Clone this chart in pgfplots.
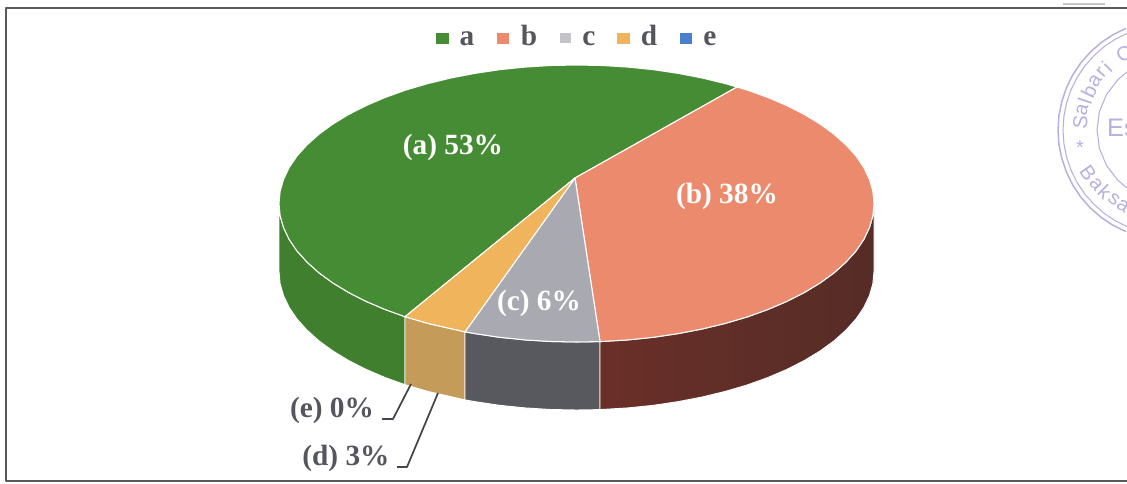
\documentclass[border=0pt]{standalone}
\usepackage{pgfplots}
\pgfplotsset{compat=1.18}
\usepackage{fontspec}
\setmainfont{Liberation Serif}
\newfontfamily\stampfont{Liberation Sans}
\definecolor{topa}{HTML}{468C34}
\definecolor{topb}{HTML}{EC8A6E}
\definecolor{topc}{HTML}{A9A9B2}
\definecolor{topd}{HTML}{EFB45C}
\definecolor{tope}{HTML}{4A7FCF}
\definecolor{sidea}{HTML}{3F7F2D}
\definecolor{sidebl}{HTML}{6A2F28}
\definecolor{sidebr}{HTML}{562C27}
\definecolor{sidec}{HTML}{58585F}
\definecolor{sided}{HTML}{C59B5A}
\definecolor{txt}{HTML}{55555E}
\definecolor{stamp}{HTML}{B5B0E0}
\newcommand{\stl}[4]{\node[text=stamp,rotate=#4,inner sep=0pt,font=\stampfont\fontsize{15}{15}\selectfont] at (axis cs:#2,#3) {#1};}
\newcommand{\lbl}[3]{\node[text=white,font=\bfseries\fontsize{22}{24}\selectfont] at (axis cs:#1,#2) {#3};}
\newcommand{\leg}[2]{\node[text=txt,font=\bfseries\fontsize{22}{24}\selectfont,anchor=base] at (axis cs:#1,46) {#2};}
\begin{document}
\begin{tikzpicture}
\begin{axis}[
  name=ax,
  scale only axis, width=845.25pt, height=362.25pt,
  xmin=0, xmax=1127, ymin=0, ymax=483, y dir=reverse,
  hide axis, clip=true,
  every axis plot/.append style={no markers, line join=round},
]
% stamp
\addplot[stamp, line width=1.1pt, forget plot] coordinates {(1125.9,28.4)(1113,34.7)(1101,42.7)(1090.2,52.2)(1080.7,63)(1072.7,75)(1066.4,87.9)(1061.8,101.5)(1058.9,115.6)(1058,130)(1058.9,144.4)(1061.8,158.5)(1066.4,172.1)(1072.7,185)(1080.7,197)(1090.2,207.8)(1101,217.3)(1113,225.3)(1125.9,231.6)};
\addplot[stamp, line width=0.8pt, forget plot] coordinates {(1127.8,33)(1115.5,39.1)(1104.1,46.7)(1093.8,55.8)(1084.7,66.1)(1077.1,77.5)(1071,89.8)(1066.6,102.8)(1063.9,116.3)(1063,130)(1063.9,143.7)(1066.6,157.2)(1071,170.2)(1077.1,182.5)(1084.7,193.9)(1093.8,204.2)(1104.1,213.3)(1115.5,220.9)(1127.8,227)};
\addplot[stamp, line width=0.8pt, forget plot] coordinates {(1132.5,68.5)(1124.8,73.7)(1117.8,79.8)(1106.5,94.5)(1099.4,111.6)(1097,130)(1099.4,148.4)(1106.5,165.5)(1117.8,180.2)(1124.8,186.3)(1132.5,191.5)};
\stl{S}{1080.3}{122.3}{85}
\stl{a}{1082.3}{110.2}{77}
\stl{l}{1084.8}{101.3}{71}
\stl{b}{1088.9}{91.4}{64}
\stl{a}{1095}{80.8}{56}
\stl{r}{1101.6}{72.3}{49}
\stl{i}{1106.8}{66.7}{44}
\stl{C}{1124}{53.8}{30}
\stl{*}{1080}{148}{0}
\stl{B}{1088}{173}{-55}
\stl{a}{1096}{184}{-50}
\stl{k}{1105}{192}{-45}
\stl{s}{1114}{199}{-38}
\stl{a}{1123}{206}{-32}
\node[text=stamp,font=\stampfont\fontsize{19}{19}\selectfont] at (axis cs:1122,128) {Es};
\addplot[gray!45, line width=0.8pt, forget plot] coordinates {(1063,4)(1105,4)};
% frame
\addplot[black!65, line width=1pt, forget plot] coordinates {(1127,8)(6,8)(6,481)(1127,481)};
% side walls
\addplot[draw=white, line width=0.7pt, fill=sidea, forget plot] coordinates {
(279,203.5)(280.1,215.6)(283.5,227.5)(289.1,239.3)(296.9,250.9)(306.9,262)(318.9,272.8)(332.8,282.9)(348.6,292.5)(366.1,301.4)(385.3,309.6)(405,316.7)
(405,384.7)(385.3,377.6)(366.1,369.4)(348.6,360.5)(332.8,350.9)(318.9,340.8)(306.9,330)(296.9,318.9)(289.1,307.3)(283.5,295.5)(280.1,283.6)(279,271.5)} --cycle;
\addplot[draw=white, line width=0.7pt, fill=sided, forget plot] coordinates {
(405,316.7)(427.8,323.4)(465,331.9)(465,399.9)(427.8,391.4)(405,384.7)} --cycle;
\addplot[draw=white, line width=0.7pt, fill=sidec, forget plot] coordinates {
(465,331.9)(474.8,333.6)(499.5,337.3)(524.9,339.9)(550.6,341.5)(576.5,342)(600,341.6)
(600,409.6)(576.5,410)(550.6,409.5)(524.9,407.9)(499.5,405.3)(474.8,401.6)(465,399.9)} --cycle;
\addplot[draw=white, line width=0.7pt, left color=sidebl, right color=sidebr, forget plot] coordinates {
(600,341.6)(628.1,339.9)(653.5,337.3)(678.2,333.6)(702.2,329)(725.3,323.4)(747.1,317)(767.7,309.6)(786.9,301.4)(804.4,292.5)(820.2,282.9)(834.1,272.8)(846.1,262)(856.1,250.9)(863.9,239.3)(869.5,227.5)(872.9,215.6)(874,203.5)
(874,271.5)(872.9,283.6)(869.5,295.5)(863.9,307.3)(856.1,318.9)(846.1,330)(834.1,340.8)(820.2,350.9)(804.4,360.5)(786.9,369.4)(767.7,377.6)(747.1,385)(725.3,391.4)(702.2,397)(678.2,401.6)(653.5,405.3)(628.1,407.9)(600,409.6)} --cycle;
% top faces
\addplot[draw=white, line width=0.8pt, fill=topa, forget plot] coordinates {
(575,178)(737,87)(725.3,83.6)(702.2,78)(678.2,73.4)(653.5,69.7)(628.1,67.1)(602.4,65.5)(576.5,65)(550.6,65.5)(524.9,67.1)(499.5,69.7)(474.8,73.4)(450.8,78)(427.8,83.6)(405.9,90)(385.3,97.4)(366.1,105.6)(348.6,114.5)(332.8,124.1)(318.9,134.3)(306.9,145)(296.9,156.1)(289.1,167.7)(283.5,179.5)(280.1,191.4)(279,203.5)(280.1,215.6)(283.5,227.5)(289.1,239.3)(296.9,250.9)(306.9,262)(318.9,272.8)(332.8,282.9)(348.6,292.5)(366.1,301.4)(385.3,309.6)(405,316.7)} --cycle;
\addplot[draw=white, line width=0.8pt, fill=topb, forget plot] coordinates {
(575,178)(600,341.6)(628.1,339.9)(653.5,337.3)(678.2,333.6)(702.2,329)(725.3,323.4)(747.1,317)(767.7,309.6)(786.9,301.4)(804.4,292.5)(820.2,282.9)(834.1,272.8)(846.1,262)(856.1,250.9)(863.9,239.3)(869.5,227.5)(872.9,215.6)(874,203.5)(872.9,191.4)(869.5,179.5)(863.9,167.7)(856.1,156.1)(846.1,145)(834.1,134.3)(820.2,124.1)(804.4,114.5)(786.9,105.6)(767.7,97.4)(747.1,90)(737,87)} --cycle;
\addplot[draw=white, line width=0.8pt, fill=topc, forget plot] coordinates {
(575,178)(465,331.9)(474.8,333.6)(499.5,337.3)(524.9,339.9)(550.6,341.5)(576.5,342)(600,341.6)} --cycle;
\addplot[draw=white, line width=0.8pt, fill=topd, forget plot] coordinates {
(575,178)(405,316.7)(427.8,323.4)(465,331.9)} --cycle;
% leaders
\addplot[txt!80!black, line width=1.3pt, forget plot] coordinates {(411,384)(393,419)(382,419)};
\addplot[txt!80!black, line width=1.3pt, forget plot] coordinates {(438,393)(407,467)(397,467)};
% legend
\addplot[fill=topa, draw=none, forget plot] coordinates {(436,33)(449,33)(449,44)(436,44)} --cycle;
\addplot[fill=topb, draw=none, forget plot] coordinates {(497,33)(509,33)(509,44)(497,44)} --cycle;
\addplot[fill=topc!70!white, draw=none, forget plot] coordinates {(560,33)(571,33)(571,43)(560,43)} --cycle;
\addplot[fill=topd, draw=none, forget plot] coordinates {(617,33)(630,33)(630,44)(617,44)} --cycle;
\addplot[fill=tope, draw=none, forget plot] coordinates {(680,33)(692,33)(692,44)(680,44)} --cycle;
\leg{467}{a}
\leg{529}{b}
\leg{589}{c}
\leg{649}{d}
\leg{710}{e}
\lbl{453}{147}{(a) 53\%}
\lbl{727}{196}{(b) 38\%}
\lbl{539}{303}{(c) 6\%}
\node[text=txt,font=\bfseries\fontsize{22}{24}\selectfont] at (axis cs:332,410) {(e) 0\%};
\node[text=txt,font=\bfseries\fontsize{22}{24}\selectfont] at (axis cs:346,458) {(d) 3\%};
\end{axis}
\path (ax.south west) rectangle (ax.north east);
\end{tikzpicture}
\end{document}
